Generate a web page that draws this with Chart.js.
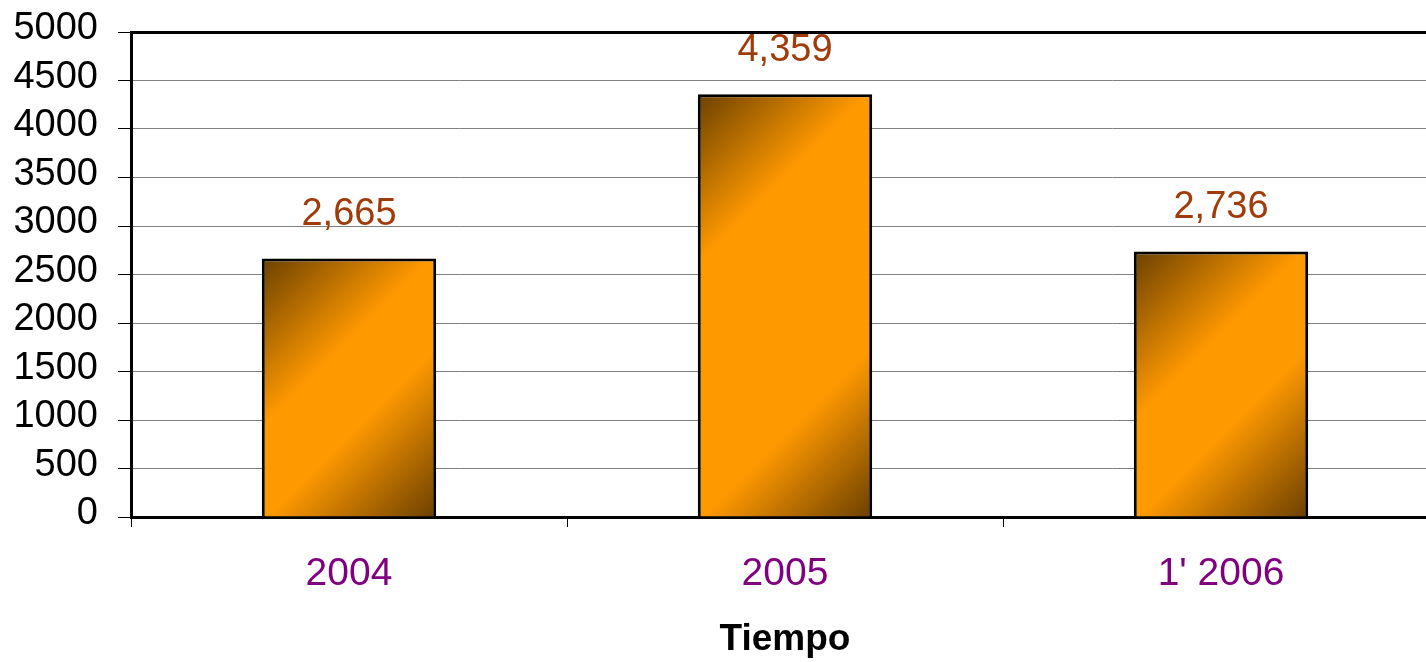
<!DOCTYPE html>
<html lang="es">
<head>
    <meta charset="UTF-8">
    <title>Tiempo</title>
    <script src="https://cdn.jsdelivr.net/npm/chart.js"></script>
    <style>
        html, body { margin: 0; padding: 0; background: #fff; overflow: hidden; }
        .chart-box { width: 1439px; height: 662px; position: relative; }
    </style>
</head>
<body>
    <div class="chart-box">
        <canvas id="grafico"></canvas>
    </div>

    <script>
        // datos
        const periodos = ['2004', '2005', "1' 2006"];
        const valores = [2665, 4359, 2736];
        const yMin = 0;
        const yMax = 5000;
        const yPaso = 500;

        const fuente = "'Liberation Sans', Arial, sans-serif";

        // degradado diagonal a 45 grados por barra (oscuro - naranja - oscuro)
        function degradado(c) {
            const chart = c.chart;
            const xs = chart.scales.x, ys = chart.scales.y;
            if (!xs || !ys || c.dataIndex === undefined) return '#FF9900';
            const cx = xs.getPixelForValue(c.dataIndex);
            const w = xs.width / periodos.length * 0.4;
            const top = ys.getPixelForValue(c.raw);
            const bot = ys.getPixelForValue(0);
            if (![cx, w, top, bot].every(Number.isFinite) || w <= 0) return '#FF9900';
            const h = bot - top;
            const x0 = cx - w / 2;
            const d = (w + h) / 2;
            const s = Math.min(0.45, 170 / (w + h));
            const g = chart.ctx.createLinearGradient(x0, top, x0 + d, top + d);
            g.addColorStop(0, '#6B4000');
            g.addColorStop(s, '#FF9900');
            g.addColorStop(1 - s, '#FF9900');
            g.addColorStop(1, '#6B4000');
            return g;
        }

        // etiquetas de valor sobre las barras
        const etiquetas = {
            id: 'etiquetas',
            afterDatasetsDraw(chart) {
                const ctx = chart.ctx;
                const meta = chart.getDatasetMeta(0);
                ctx.save();
                ctx.font = '38px ' + fuente;
                ctx.fillStyle = '#A03C0A';
                ctx.textAlign = 'center';
                ctx.textBaseline = 'middle';
                meta.data.forEach((bar, i) => {
                    ctx.fillText(valores[i].toLocaleString('en-US'), bar.x, bar.y - 44);
                });
                ctx.restore();
            }
        };

        new Chart(document.getElementById('grafico').getContext('2d'), {
            type: 'bar',
            data: {
                labels: periodos,
                datasets: [{
                    data: valores,
                    backgroundColor: degradado,
                    borderColor: '#000',
                    borderWidth: 3,
                    categoryPercentage: 1,
                    barPercentage: 0.4
                }]
            },
            options: {
                responsive: true,
                maintainAspectRatio: false,
                animation: false,
                layout: { padding: { top: 32, right: 0, bottom: 0, left: 0 } },
                plugins: {
                    legend: { display: false },
                    tooltip: { enabled: false }
                },
                scales: {
                    x: {
                        afterFit(scale) {
                            scale.height = 145;
                            scale.paddingLeft = 0;
                            scale.paddingRight = 0;
                        },
                        grid: {
                            offset: true,
                            drawOnChartArea: false,
                            drawTicks: true,
                            tickLength: 10,
                            color: '#000',
                            lineWidth: 1
                        },
                        border: { display: true, color: '#000', width: 3 },
                        ticks: {
                            color: '#800080',
                            font: { family: fuente, size: 39 },
                            padding: 24,
                            maxRotation: 0,
                            autoSkip: false
                        },
                        title: {
                            display: true,
                            text: 'Tiempo',
                            color: '#000',
                            font: { family: fuente, size: 37, weight: 'bold' },
                            padding: { top: 0, bottom: 0 }
                        }
                    },
                    y: {
                        min: yMin,
                        max: yMax,
                        afterFit(scale) {
                            scale.width = 131;
                            scale.paddingTop = 0;
                            scale.paddingBottom = 0;
                        },
                        grid: {
                            color: c => (c.tick && (c.tick.value === yMax || c.tick.value === yMin)) ? '#000' : '#808080',
                            lineWidth: c => (c.tick && c.tick.value === yMax) ? 3 : 1,
                            tickColor: '#000',
                            tickWidth: 1,
                            tickLength: 13
                        },
                        border: { display: true, color: '#000', width: 3 },
                        ticks: {
                            stepSize: yPaso,
                            autoSkip: false,
                            color: '#000',
                            font: { family: fuente, size: 38 },
                            padding: 20,
                            labelOffset: -3,
                            callback: v => String(v)
                        }
                    }
                }
            },
            plugins: [etiquetas]
        });
    </script>
</body>
</html>
